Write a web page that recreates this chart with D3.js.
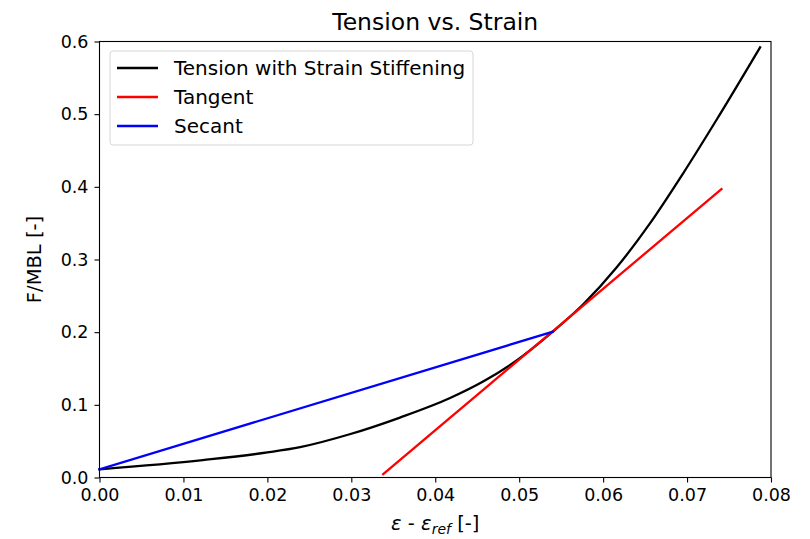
<!DOCTYPE html>
<html><head><meta charset="utf-8">
<script src="https://cdn.jsdelivr.net/npm/d3@7"></script>
<style>body{margin:0;background:#fff}svg{display:block}text{font-family:"DejaVu Sans",sans-serif}</style>
</head><body><svg id="c" width="810" height="539"></svg>
<script>
const strain  = [0, 0.0123, 0.02, 0.0239, 0.0298, 0.0358, 0.0417, 0.0457, 0.0497, 0.054, 0.0576, 0.0616, 0.0656, 0.0695, 0.0735, 0.0787];
const tension = [0.0113, 0.024, 0.0345, 0.0418, 0.0595, 0.0825, 0.109, 0.132, 0.161, 0.2006, 0.238, 0.289, 0.35, 0.418, 0.492, 0.592];
const tangentX = [0.0338, 0.0741];
const tangentY = [0.0045, 0.397];
const secantX = [0, 0.054];
const secantY = [0.0113, 0.2006];
const xTicks = [0, 0.01, 0.02, 0.03, 0.04, 0.05, 0.06, 0.07, 0.08];
const yTicks = [0, 0.1, 0.2, 0.3, 0.4, 0.5, 0.6];
const legendLabels = ["Tension with Strain Stiffening", "Tangent", "Secant"];
const colors = ["#000000", "#ff0000", "#0000ff"];

const svg = d3.select("#c");
const L = 99.5, R = 771, T = 41.5, B = 477.5;
const x = d3.scaleLinear().domain([0, 0.08]).range([L, R]);
const y = d3.scaleLinear().domain([0, 0.6]).range([B, T]);

const fs = 17.5;
const xa = svg.append("g").attr("transform", `translate(0,${B})`)
  .call(d3.axisBottom(x).tickValues(xTicks).tickFormat(d3.format(".2f")).tickSizeOuter(0).tickSize(5).tickPadding(6));
const ya = svg.append("g").attr("transform", `translate(${L},0)`)
  .call(d3.axisLeft(y).tickValues(yTicks).tickFormat(d3.format(".1f")).tickSizeOuter(0).tickSize(5).tickPadding(6));
[xa, ya].forEach(a => {
  a.select(".domain").remove();
  a.selectAll("line").attr("stroke", "#000").attr("stroke-width", 1.1);
  a.selectAll("text").attr("font-size", fs).attr("font-family", "DejaVu Sans").attr("fill", "#000");
});

const line = d3.line().x(d => x(d[0])).y(d => y(d[1]));
const ser = [
  {pts: d3.zip(strain, tension), c: colors[0], curve: d3.curveMonotoneX},
  {pts: d3.zip(tangentX, tangentY), c: colors[1], curve: d3.curveLinear},
  {pts: d3.zip(secantX, secantY), c: colors[2], curve: d3.curveLinear}
];
ser.forEach(s => {
  svg.append("path").attr("d", line.curve(s.curve)(s.pts)).attr("fill", "none")
    .attr("stroke", s.c).attr("stroke-width", 2.3).attr("stroke-linecap", "square");
});

svg.append("rect").attr("x", L).attr("y", T).attr("width", R - L).attr("height", B - T)
  .attr("fill", "none").attr("stroke", "#000").attr("stroke-width", 1.1);

// legend
const lg = svg.append("g");
lg.append("rect").attr("x", 110).attr("y", 51).attr("width", 363).attr("height", 94)
  .attr("rx", 3).attr("fill", "#fff").attr("fill-opacity", 0.8).attr("stroke", "#d6d6d6").attr("stroke-width", 1);
legendLabels.forEach((t, i) => {
  const yy = 68 + i * 29;
  lg.append("line").attr("x1", 117).attr("x2", 158).attr("y1", yy).attr("y2", yy)
    .attr("stroke", colors[i]).attr("stroke-width", 2.3);
  lg.append("text").attr("x", 174).attr("y", yy).attr("dy", "0.35em").attr("font-size", 20).text(t);
});

svg.append("text").attr("x", (L + R) / 2).attr("y", 30).attr("text-anchor", "middle")
  .attr("font-size", 23.5).text("Tension vs. Strain");

const xl = svg.append("text").attr("x", (L + R) / 2).attr("y", 530).attr("text-anchor", "middle").attr("font-size", 19.5);
xl.append("tspan").attr("font-style", "italic").text("ε");
xl.append("tspan").text(" - ");
xl.append("tspan").attr("font-style", "italic").text("ε");
xl.append("tspan").attr("font-style", "italic").attr("font-size", 14).attr("dy", 3.5).text("ref");
xl.append("tspan").attr("dy", -3.5).text(" [-]");

svg.append("text").attr("transform", `translate(41,${(T + B) / 2}) rotate(-90)`).attr("text-anchor", "middle")
  .attr("font-size", 19.5).text("F/MBL [-]");
</script></body></html>
